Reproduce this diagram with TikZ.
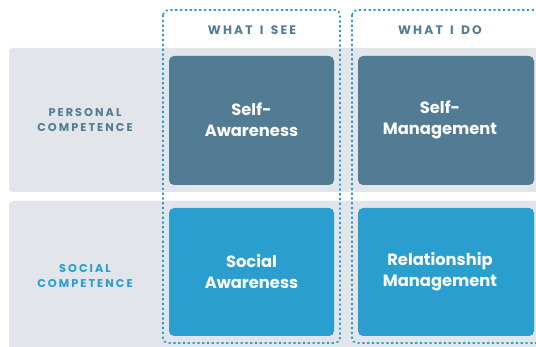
\documentclass[tikz,border=0pt]{standalone}
\usepackage{fontspec}
\setmainfont{Poppins}
\usepackage{tikz}
\usetikzlibrary{positioning}
\definecolor{slate}{HTML}{517C93}
\definecolor{skyblue}{HTML}{2A9FCF}
\definecolor{rowgray}{HTML}{E2E5E9}
\newfontfamily\capsfont[LetterSpace=18, WordSpace=1.5]{Poppins}
\tikzstyle{row}=[%
      rectangle, draw=none, fill=rowgray, rounded corners=4pt
]
\tikzstyle{frame}=[%
      rectangle, draw=skyblue, line width=1.6pt, dash pattern=on 2.2pt off 2.6pt, rounded corners=5pt
]
\tikzstyle{quad}=[%
      rectangle, draw=none, rounded corners=5pt
]
\tikzstyle{head}=[%
      text=slate, font=\capsfont\bfseries\fontsize{12.3}{13}\selectfont, align=center
]
\tikzstyle{side}=[%
      font=\capsfont\bfseries\fontsize{11.3}{15}\selectfont, align=center
]
\tikzstyle{big}=[%
      text=white, font=\bfseries\fontsize{16.3}{21}\selectfont, align=center
]

\begin{document}
\begin{tikzpicture}[x=1pt, y=-1pt]
    \useasboundingbox (0,0) rectangle (536,347);
    \clip (0,0) rectangle (536,347);
    \fill[white] (0,0) rectangle (536,347);

    % the two rows
    \path[row] (9,48) rectangle (580,192);
    \path[row] (9,201) rectangle (580,380);

    % the two columns
    \draw[frame] (163,10) rectangle (340,343);
    \draw[frame] (352,10) rectangle (620,343);

    \node[head] (see) at (252,30.5) {WHAT I SEE};
    \node[head] (do)  at (440,30.5) {WHAT I DO};

    \node[side, text=slate]   (personal) at (85,120) {PERSONAL\\COMPETENCE};
    \node[side, text=skyblue] (social)   at (85,276) {SOCIAL\\COMPETENCE};

    % four quadrants
    \path[quad, fill=slate]   (169,56)  rectangle (334,185);
    \path[quad, fill=slate]   (358,56)  rectangle (534,185);
    \path[quad, fill=skyblue] (169,208) rectangle (334,336);
    \path[quad, fill=skyblue] (358,208) rectangle (534,336);

    \node[big] (selfaw)  at (251.5,120) {Self-\\Awareness};
    \node[big] (selfman) at (440,120)   {Self-\\Management};
    \node[big] (socaw)   at (251.5,272) {Social\\Awareness};
    \node[big] (relman)  at (440,272)   {Relationship\\Management};
\end{tikzpicture}
\end{document}
